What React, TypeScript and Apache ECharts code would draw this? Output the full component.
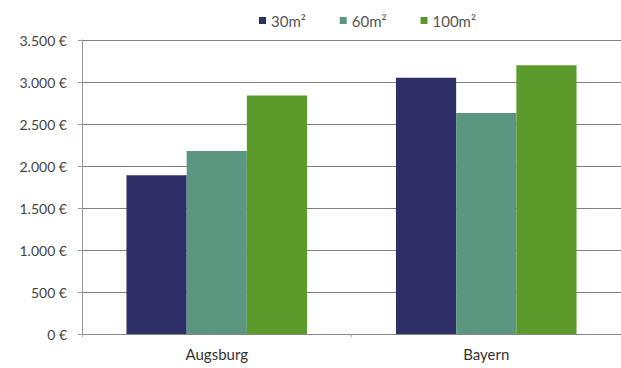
import React, { useEffect, useRef } from "react";
import * as echarts from "echarts";

const categories = ["Augsburg", "Bayern"];
const seriesNames = ["30m²", "60m²", "100m²"];
const values30 = [1890, 3050];
const values60 = [2180, 2630];
const values100 = [2840, 3200];
const colors = ["#2e2f66", "#5b9680", "#5c9a2b"];

export default function App() {
  const ref = useRef<HTMLDivElement>(null);
  useEffect(() => {
    document.body.style.margin = "0";
    const chart = echarts.init(ref.current!, undefined, { renderer: "svg" });
    const font = "Lato, 'Open Sans', sans-serif";
    const data = [values30, values60, values100];
    chart.setOption({
      animation: false,
      backgroundColor: "#ffffff",
      color: colors,
      legend: {
        top: 8,
        left: 254,
        itemWidth: 7,
        itemHeight: 7,
        itemGap: 34,
        icon: "rect",
        textStyle: { color: "#555", fontSize: 15, fontFamily: font },
        data: seriesNames,
      },
      grid: { left: 82, right: -2, top: 40, bottom: 34, containLabel: false },
      xAxis: {
        type: "category",
        data: categories,
        axisLine: { lineStyle: { color: "#888" } },
        axisTick: { show: true, length: 3, lineStyle: { color: "#aaa" } },
        axisLabel: { color: "#333", fontSize: 15, fontFamily: font, margin: 12 },
      },
      yAxis: {
        type: "value",
        min: 0,
        max: 3500,
        interval: 500,
        axisLine: { show: true, lineStyle: { color: "#999" } },
        axisTick: { show: true, length: 4, lineStyle: { color: "#999" } },
        splitLine: { lineStyle: { color: "#808080", width: 1 } },
        axisLabel: {
          color: "#444",
          fontSize: 14,
          fontFamily: font,
          margin: 15,
          formatter: (v: number) =>
            v.toString().replace(/\B(?=(\d{3})+(?!\d))/g, ".") + " €",
        },
      },
      series: seriesNames.map((name, i) => ({
        name,
        type: "bar",
        data: data[i],
        barGap: "0%",
        barCategoryGap: "33%",
        itemStyle: { color: colors[i] },
      })),
    });
    return () => chart.dispose();
  }, []);
  return <div ref={ref} style={{ width: 621, height: 368 }} />;
}
